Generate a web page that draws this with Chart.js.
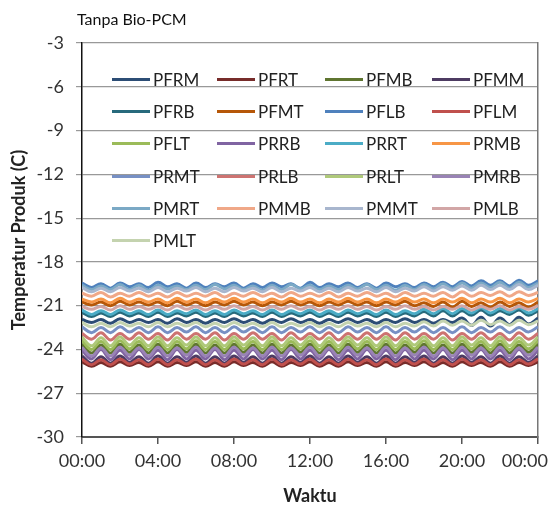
<!DOCTYPE html>
<html>
<head>
<meta charset="utf-8">
<script src="https://cdn.jsdelivr.net/npm/chart.js@4.4.1/dist/chart.umd.min.js"></script>
<style>
  body { margin: 0; background: #fff; }
  #wrap { position: relative; width: 552px; height: 510px; }
  #legend { position: absolute; left: 0; top: 0; font-family: Lato, sans-serif; font-size: 17px; color: #222; }
  .item { position: absolute; display: flex; align-items: center; height: 20px; white-space: nowrap; }
  .item span.ln { display: inline-block; width: 38px; height: 3px; margin-right: 3px; }
</style>
</head>
<body>
<div id="wrap">
  <canvas id="line-chart"></canvas>
  <div id="legend"></div>
</div>
<script>
// waktu (jam) dan label sumbu
const hours = [0,0.5,1,1.5,2,2.5,3,3.5,4,4.5,5,5.5,6,6.5,7,7.5,8,8.5,9,9.5,10,10.5,11,11.5,12,
  12.5,13,13.5,14,14.5,15,15.5,16,16.5,17,17.5,18,18.5,19,19.5,20,20.5,21,21.5,22,22.5,23,23.5,24];
const xTickLabels = ["00:00","04:00","08:00","12:00","16:00","20:00","00:00"];
const yTicks = [-30,-27,-24,-21,-18,-15,-12,-9,-6,-3];

const seriesNames = ["PFRM","PFRT","PFMB","PFMM","PFRB","PFMT","PFLB","PFLM","PFLT","PRRB","PRRT",
  "PRMB","PRMT","PRLB","PRLT","PMRB","PMRT","PMMB","PMMT","PMLB","PMLT"];
const seriesColors = ["#2c4d75","#772c2a","#5f7530","#4d3b62","#276a7c","#b65708","#4f81bd","#c0504d",
  "#9bbb59","#8064a2","#4bacc6","#f79646","#7790c4","#cd7371","#afc97a","#9983b5","#7ba9c5","#f0a888",
  "#a8b6ce","#d2a6a6","#c4d3af"];

const PFRM = [-21.95,-22.15,-21.95,-22.20,-21.90,-22.15,-21.95,-22.15,-21.95,-22.20,
  -21.90,-22.15,-21.95,-22.20,-21.95,-22.15,-21.90,-22.15,-21.95,-22.20,
  -21.95,-22.15,-21.90,-22.15,-21.95,-22.20,-21.95,-22.15,-21.90,-22.15,
  -21.95,-22.20,-21.95,-22.15,-21.90,-22.15,-21.95,-22.20,-21.95,-22.15,
  -21.85,-22.35,-21.80,-22.40,-21.85,-22.30,-21.80,-22.25,-21.85];
const PFRT = [-24.85,-25.15,-24.90,-25.15,-24.85,-25.10,-24.90,-25.15,-24.85,-25.15,
  -24.90,-25.10,-24.85,-25.15,-24.90,-25.15,-24.85,-25.10,-24.90,-25.15,
  -24.85,-25.15,-24.90,-25.10,-24.85,-25.15,-24.90,-25.15,-24.85,-25.10,
  -24.90,-25.15,-24.85,-25.15,-24.90,-25.10,-24.85,-25.15,-24.90,-25.15,
  -24.85,-25.10,-24.90,-25.15,-24.85,-25.15,-24.90,-25.10,-24.85];
const PFMB = [-23.65,-24.25,-23.70,-24.25,-23.65,-24.20,-23.70,-24.25,-23.65,-24.25,
  -23.70,-24.20,-23.65,-24.25,-23.70,-24.25,-23.65,-24.20,-23.70,-24.25,
  -23.65,-24.25,-23.70,-24.20,-23.65,-24.25,-23.70,-24.25,-23.65,-24.20,
  -23.70,-24.25,-23.65,-24.25,-23.70,-24.20,-23.65,-24.25,-23.70,-24.25,
  -23.65,-24.20,-23.70,-24.25,-23.65,-24.25,-23.70,-24.20,-23.65];
const PFMM = [-24.45,-24.95,-24.50,-24.95,-24.45,-24.90,-24.50,-24.95,-24.45,-24.95,
  -24.50,-24.90,-24.45,-24.95,-24.50,-24.95,-24.45,-24.90,-24.50,-24.95,
  -24.45,-24.95,-24.50,-24.90,-24.45,-24.95,-24.50,-24.95,-24.45,-24.90,
  -24.50,-24.95,-24.45,-24.95,-24.50,-24.90,-24.45,-24.95,-24.50,-24.95,
  -24.45,-24.90,-24.50,-24.95,-24.45,-24.95,-24.50,-24.90,-24.45];
const PFRB = [-21.45,-21.75,-21.50,-21.75,-21.45,-21.70,-21.50,-21.75,-21.45,-21.75,
  -21.50,-21.70,-21.45,-21.75,-21.50,-21.75,-21.45,-21.70,-21.50,-21.75,
  -21.45,-21.75,-21.50,-21.70,-21.45,-21.75,-21.50,-21.75,-21.45,-21.70,
  -21.50,-21.75,-21.45,-21.75,-21.50,-21.70,-21.40,-21.70,-21.35,-21.70,
  -21.35,-21.65,-21.30,-21.65,-21.35,-21.60,-21.30,-21.65,-21.35];
const PFMT = [-20.75,-20.95,-20.75,-21.00,-20.70,-20.95,-20.75,-20.95,-20.75,-21.00,
  -20.70,-20.95,-20.75,-21.00,-20.75,-20.95,-20.70,-20.95,-20.75,-21.00,
  -20.75,-20.95,-20.70,-20.95,-20.75,-21.00,-20.75,-20.95,-20.70,-20.95,
  -20.75,-21.00,-20.75,-20.95,-20.70,-21.00,-20.80,-21.05,-20.75,-21.10,
  -20.70,-21.05,-20.80,-21.10,-20.75,-21.05,-20.80,-21.10,-20.75];
const PFLB = [-19.45,-19.75,-19.50,-19.80,-19.45,-19.70,-19.50,-19.75,-19.40,-19.70,
  -19.50,-19.80,-19.45,-19.75,-19.50,-19.70,-19.45,-19.80,-19.50,-19.75,
  -19.45,-19.70,-19.50,-19.80,-19.40,-19.75,-19.50,-19.70,-19.45,-19.75,
  -19.50,-19.80,-19.45,-19.70,-19.50,-19.75,-19.45,-19.70,-19.40,-19.70,
  -19.35,-19.65,-19.30,-19.60,-19.30,-19.65,-19.25,-19.60,-19.30];
const PFLM = [-24.65,-25.05,-24.70,-25.05,-24.65,-25.00,-24.70,-25.05,-24.65,-25.05,
  -24.70,-25.00,-24.65,-25.05,-24.70,-25.05,-24.65,-25.00,-24.70,-25.05,
  -24.65,-25.05,-24.70,-25.00,-24.65,-25.05,-24.70,-25.05,-24.65,-25.00,
  -24.70,-25.05,-24.65,-25.05,-24.70,-25.00,-24.65,-25.05,-24.70,-25.05,
  -24.65,-25.00,-24.70,-25.05,-24.65,-25.05,-24.70,-25.00,-24.65];
const PFLT = [-23.40,-24.00,-23.45,-24.00,-23.40,-23.95,-23.45,-24.00,-23.40,-24.00,
  -23.45,-23.95,-23.40,-24.00,-23.45,-24.00,-23.40,-23.95,-23.45,-24.00,
  -23.40,-24.00,-23.45,-23.95,-23.40,-24.00,-23.45,-24.00,-23.40,-23.95,
  -23.45,-24.00,-23.40,-24.00,-23.45,-23.95,-23.40,-24.00,-23.45,-24.00,
  -23.40,-23.95,-23.45,-24.00,-23.40,-24.00,-23.45,-23.95,-23.40];
const PRRB = [-24.05,-24.65,-24.00,-24.70,-24.05,-24.65,-24.00,-24.65,-24.05,-24.70,
  -24.00,-24.65,-24.05,-24.65,-24.00,-24.70,-24.05,-24.65,-24.00,-24.65,
  -24.05,-24.70,-24.00,-24.65,-24.05,-24.65,-24.00,-24.70,-24.05,-24.65,
  -24.00,-24.65,-24.05,-24.70,-24.00,-24.65,-24.05,-24.65,-24.00,-24.70,
  -24.05,-24.65,-24.00,-24.65,-24.05,-24.70,-24.00,-24.65,-24.05];
const PRRT = [-21.30,-21.60,-21.35,-21.60,-21.30,-21.55,-21.35,-21.60,-21.30,-21.60,
  -21.35,-21.55,-21.30,-21.60,-21.35,-21.60,-21.30,-21.55,-21.35,-21.60,
  -21.30,-21.60,-21.35,-21.55,-21.30,-21.60,-21.35,-21.60,-21.30,-21.55,
  -21.35,-21.60,-21.30,-21.60,-21.35,-21.55,-21.25,-21.55,-21.20,-21.55,
  -21.20,-21.50,-21.15,-21.50,-21.20,-21.45,-21.15,-21.50,-21.20];
const PRMB = [-20.55,-20.75,-20.55,-20.80,-20.50,-20.75,-20.55,-20.75,-20.55,-20.80,
  -20.50,-20.75,-20.55,-20.80,-20.55,-20.75,-20.50,-20.75,-20.55,-20.80,
  -20.55,-20.75,-20.50,-20.75,-20.55,-20.80,-20.55,-20.75,-20.50,-20.75,
  -20.55,-20.80,-20.55,-20.75,-20.50,-20.75,-20.55,-20.80,-20.55,-20.75,
  -20.50,-20.80,-20.55,-20.75,-20.50,-20.80,-20.55,-20.75,-20.50];
const PRMT = [-22.45,-22.85,-22.50,-22.85,-22.45,-22.80,-22.50,-22.85,-22.45,-22.85,
  -22.50,-22.80,-22.45,-22.85,-22.50,-22.85,-22.45,-22.80,-22.50,-22.85,
  -22.45,-22.85,-22.50,-22.80,-22.45,-22.85,-22.50,-22.85,-22.45,-22.80,
  -22.50,-22.85,-22.45,-22.85,-22.50,-22.80,-22.45,-22.85,-22.50,-22.85,
  -22.45,-22.85,-22.50,-22.80,-22.45,-22.85,-22.50,-22.80,-22.45];
const PRLB = [-22.90,-23.30,-22.85,-23.35,-22.90,-23.30,-22.85,-23.30,-22.90,-23.35,
  -22.85,-23.30,-22.90,-23.30,-22.85,-23.35,-22.90,-23.30,-22.85,-23.30,
  -22.90,-23.35,-22.85,-23.30,-22.90,-23.30,-22.85,-23.35,-22.90,-23.30,
  -22.85,-23.30,-22.90,-23.35,-22.85,-23.30,-22.90,-23.30,-22.85,-23.35,
  -22.90,-23.30,-22.85,-23.30,-22.90,-23.35,-22.85,-23.30,-22.90];
const PRLT = [-23.15,-23.75,-23.20,-23.75,-23.15,-23.70,-23.20,-23.75,-23.15,-23.75,
  -23.20,-23.70,-23.15,-23.75,-23.20,-23.75,-23.15,-23.70,-23.20,-23.75,
  -23.15,-23.75,-23.20,-23.70,-23.15,-23.75,-23.20,-23.75,-23.15,-23.70,
  -23.20,-23.75,-23.15,-23.75,-23.20,-23.70,-23.15,-23.75,-23.20,-23.75,
  -23.15,-23.70,-23.20,-23.75,-23.15,-23.75,-23.20,-23.70,-23.15];
const PMRB = [-23.85,-24.45,-23.90,-24.45,-23.85,-24.40,-23.90,-24.45,-23.85,-24.45,
  -23.90,-24.40,-23.85,-24.45,-23.90,-24.45,-23.85,-24.40,-23.90,-24.45,
  -23.85,-24.45,-23.90,-24.40,-23.85,-24.45,-23.90,-24.45,-23.85,-24.40,
  -23.90,-24.45,-23.85,-24.45,-23.90,-24.40,-23.85,-24.45,-23.90,-24.45,
  -23.85,-24.40,-23.90,-24.45,-23.85,-24.45,-23.90,-24.40,-23.85];
const PMRT = [-19.60,-19.90,-19.65,-19.90,-19.55,-19.90,-19.60,-19.95,-19.60,-19.85,
  -19.65,-19.90,-19.60,-19.90,-19.55,-19.85,-19.60,-19.90,-19.65,-19.95,
  -19.60,-19.90,-19.55,-19.85,-19.60,-19.90,-19.65,-19.90,-19.60,-19.85,
  -19.55,-19.90,-19.60,-19.95,-19.60,-19.90,-19.55,-19.85,-19.50,-19.85,
  -19.45,-19.80,-19.45,-19.75,-19.40,-19.80,-19.40,-19.75,-19.45];
const PMMB = [-20.15,-20.35,-20.10,-20.40,-20.15,-20.35,-20.10,-20.35,-20.15,-20.40,
  -20.10,-20.35,-20.15,-20.35,-20.10,-20.40,-20.15,-20.35,-20.10,-20.35,
  -20.15,-20.40,-20.10,-20.35,-20.15,-20.35,-20.10,-20.40,-20.15,-20.35,
  -20.10,-20.35,-20.15,-20.40,-20.10,-20.35,-20.15,-20.35,-20.10,-20.40,
  -20.05,-20.35,-20.10,-20.30,-20.05,-20.35,-20.05,-20.30,-20.10];
const PMMT = [-19.75,-20.05,-19.80,-20.05,-19.75,-20.00,-19.80,-20.05,-19.75,-20.05,
  -19.80,-20.00,-19.75,-20.05,-19.80,-20.05,-19.75,-20.00,-19.80,-20.05,
  -19.75,-20.05,-19.80,-20.00,-19.75,-20.05,-19.80,-20.05,-19.75,-20.00,
  -19.80,-20.05,-19.75,-20.05,-19.80,-20.00,-19.70,-20.00,-19.70,-19.95,
  -19.65,-19.95,-19.60,-19.90,-19.60,-19.90,-19.55,-19.90,-19.60];
const PMLB = [-21.05,-21.25,-21.05,-21.30,-21.00,-21.25,-21.05,-21.25,-21.05,-21.30,
  -21.00,-21.25,-21.05,-21.30,-21.05,-21.25,-21.00,-21.25,-21.05,-21.30,
  -21.05,-21.25,-21.00,-21.25,-21.05,-21.30,-21.05,-21.25,-21.00,-21.25,
  -21.05,-21.30,-21.05,-21.25,-21.00,-21.25,-21.05,-21.30,-21.05,-21.25,
  -21.00,-21.30,-21.05,-21.25,-21.00,-21.30,-21.05,-21.25,-21.00];
const PMLT = [-22.15,-22.45,-22.20,-22.45,-22.15,-22.40,-22.20,-22.45,-22.15,-22.45,
  -22.20,-22.40,-22.15,-22.45,-22.20,-22.45,-22.15,-22.40,-22.20,-22.45,
  -22.15,-22.45,-22.20,-22.40,-22.15,-22.45,-22.20,-22.45,-22.15,-22.40,
  -22.20,-22.45,-22.15,-22.45,-22.20,-22.40,-22.10,-22.40,-22.05,-22.35,
  -22.05,-22.35,-22.00,-22.30,-22.05,-22.35,-22.00,-22.30,-22.05];

const seriesValues = [PFRM,PFRT,PFMB,PFMM,PFRB,PFMT,PFLB,PFLM,PFLT,PRRB,PRRT,
  PRMB,PRMT,PRLB,PRLT,PMRB,PMRT,PMMB,PMMT,PMLB,PMLT];

// judul kiri atas
const titlePlugin = {
  id: "cornerTitle",
  afterDraw(chart) {
    const ctx = chart.ctx;
    ctx.save();
    ctx.font = "16px Lato";
    ctx.fillStyle = "#111";
    ctx.textBaseline = "middle";
    ctx.fillText("Tanpa Bio-PCM", 77, 20);
    ctx.restore();
  }
};

// label 00:00 terakhir digeser ke kiri seperti di Excel
const lastLabelPlugin = {
  id: "lastLabel",
  beforeDraw(chart) {
    const items = chart.scales.x.getLabelItems();
    const last = items[items.length - 1];
    if (last) {
      last.options.textAlign = "right";
      last.options.translation[0] = chart.chartArea.right + 10;
    }
  }
};

function initializeChart() {
  const ctx = document.getElementById("line-chart").getContext("2d");
  const datasets = seriesNames.map((name, i) => ({
    label: name,
    data: seriesValues[i].map((v, k) => ({ x: hours[k], y: v })),
    borderColor: seriesColors[i],
    borderWidth: 3,
    pointRadius: 0,
    tension: 0.4,
    order: -i,
  }));

  return new Chart(ctx, {
    type: "line",
    data: { datasets: datasets },
    options: {
      responsive: true,
      maintainAspectRatio: false,
      animation: false,
      layout: { padding: { top: 43, right: 0, left: 0, bottom: 0 } },
      plugins: {
        legend: { display: false },
        tooltip: { enabled: false },
      },
      scales: {
        x: {
          type: "linear",
          min: 0,
          max: 24,
          afterBuildTicks: (s) => { s.ticks = xTickLabels.map((t, i) => ({ value: i * 4 })); },
          afterFit: (s) => { s.height = 73; s.paddingLeft = 0; s.paddingRight = 0; },
          grid: { drawOnChartArea: false, drawTicks: true, tickLength: 7, color: "#555", lineWidth: 1.5 },
          border: { color: "#555", width: 2 },
          ticks: {
            padding: 6,
            color: "#333",
            font: { family: "Lato", size: 18 },
            maxRotation: 0,
            autoSkip: false,
            callback: (v, i) => xTickLabels[i],
          },
          title: {
            display: true,
            text: "Waktu",
            color: "#222",
            font: { family: "Lato", size: 18, weight: "bold" },
            padding: { top: 0, bottom: 3 },
          },
        },
        y: {
          min: -30,
          max: -3,
          afterBuildTicks: (s) => { s.ticks = yTicks.map((v) => ({ value: v })); },
          afterFit: (s) => { s.width = 82; },
          grid: { color: "#999", lineWidth: 1.2, tickLength: 6 },
          border: { color: "#111", width: 1.5 },
          ticks: {
            padding: 12,
            color: "#333",
            font: { family: "Lato", size: 18 },
          },
          title: {
            display: true,
            text: "Temperatur Produk (C)",
            color: "#222",
            font: { family: "Lato", size: 18, weight: "bold" },
            padding: { top: 8, bottom: 0 },
          },
        },
        y2: {
          position: "right",
          afterFit: (s) => { s.width = 14; },
          grid: { display: false },
          ticks: { display: false },
          border: { color: "#777", width: 1.5 },
        },
      },
    },
    plugins: [titlePlugin, lastLabelPlugin],
  });
}

// legenda di dalam area plot, 4 kolom
function buildLegend(chart) {
  const box = document.getElementById("legend");
  const colX = [112, 217, 325, 432];
  const rowY = [79, 111, 143, 176, 208, 240];
  chart.data.datasets.forEach((ds, i) => {
    const el = document.createElement("div");
    el.className = "item";
    el.style.left = colX[i % 4] + "px";
    el.style.top = (rowY[Math.floor(i / 4)] - 10) + "px";
    el.innerHTML = '<span class="ln" style="background:' + ds.borderColor + '"></span>' + ds.label;
    box.appendChild(el);
  });
}

document.addEventListener("DOMContentLoaded", () => {
  document.getElementById("wrap").style.height = "510px";
  const chart = initializeChart();
  buildLegend(chart);
});
</script>
</body>
</html>
